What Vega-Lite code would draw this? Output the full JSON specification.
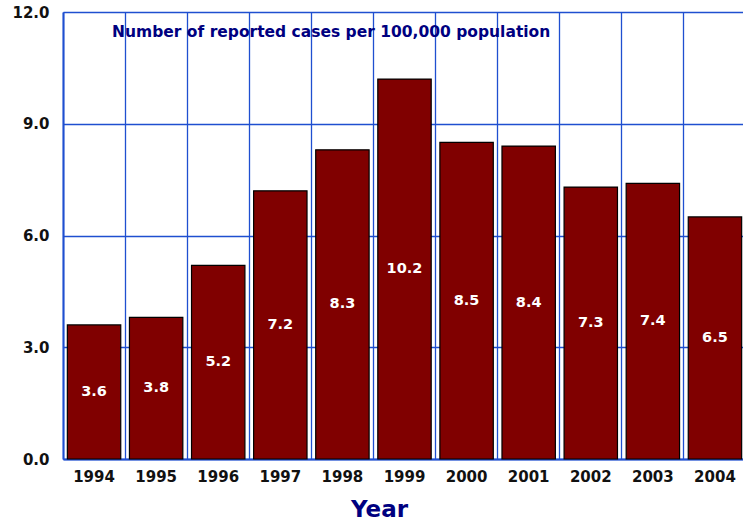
{
  "$schema": "https://vega.github.io/schema/vega-lite/v6.json",
  "autosize": {"type": "none"},
  "width": 683,
  "height": 447,
  "padding": {"left": 63, "top": 12, "right": 0, "bottom": 66},
  "background": "white",
  "config": {"view": {"stroke": null}, "font": "DejaVu Sans"},
  "data": {"values": [
    {"year": "1994", "rate": 3.6},
    {"year": "1995", "rate": 3.8},
    {"year": "1996", "rate": 5.2},
    {"year": "1997", "rate": 7.2},
    {"year": "1998", "rate": 8.3},
    {"year": "1999", "rate": 10.2},
    {"year": "2000", "rate": 8.5},
    {"year": "2001", "rate": 8.4},
    {"year": "2002", "rate": 7.3},
    {"year": "2003", "rate": 7.4},
    {"year": "2004", "rate": 6.5}
  ]},
  "encoding": {
    "x": {
      "field": "year", "type": "ordinal",
      "scale": {"paddingInner": 0, "paddingOuter": 0},
      "axis": {
        "title": "Year", "titleFont": "DejaVu Sans", "titleFontSize": 23, "titleFontWeight": "bold", "titleColor": "#000080", "titlePadding": 14, "titleX": 316, "titleAlign": "center",
        "labelAngle": 0, "labelFontSize": 15, "labelFontWeight": "bold", "labelColor": "#111111", "labelPadding": 10,
        "grid": true, "bandPosition": 0, "gridColor": "#1f4fd0", "gridWidth": 1.3,
        "ticks": false, "domainColor": "#1f4fd0", "domainWidth": 2
      }
    }
  },
  "layer": [
    {
      "mark": {"type": "bar", "color": "#800000", "stroke": "#000000", "strokeWidth": 1.2, "width": {"band": 0.86}},
      "encoding": {
        "y": {
          "field": "rate", "type": "quantitative",
          "scale": {"domain": [0, 12]},
          "axis": {
            "title": null, "values": [0, 3, 6, 9, 12], "format": ".1f",
            "labelFontSize": 15, "labelFontWeight": "bold", "labelColor": "#111111", "labelPadding": 14,
            "ticks": false, "gridColor": "#1f4fd0", "gridWidth": 1.3, "domainColor": "#1f4fd0", "domainWidth": 2
          }
        }
      }
    },
    {
      "transform": [{"calculate": "datum.rate / 2", "as": "mid"}],
      "mark": {"type": "text", "color": "white", "fontSize": 14.5, "fontWeight": "bold", "baseline": "middle"},
      "encoding": {
        "y": {"field": "mid", "type": "quantitative"},
        "text": {"field": "rate", "type": "quantitative", "format": ".1f"}
      }
    },
    {
      "data": {"values": [{"label": "Number of reported cases per 100,000 population", "xpos": "1994", "ypos": 11.45}]},
      "mark": {"type": "text", "align": "left", "baseline": "middle", "dx": 18, "color": "#000080", "fontSize": 15.5, "fontWeight": "bold"},
      "encoding": {
        "x": {"field": "xpos", "type": "ordinal"},
        "y": {"field": "ypos", "type": "quantitative"},
        "text": {"field": "label"}
      }
    }
  ]
}
